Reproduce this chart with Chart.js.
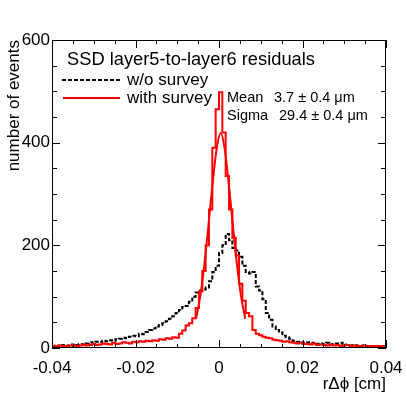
<!DOCTYPE html>
<html>
<head>
<meta charset="utf-8">
<script src="https://cdn.jsdelivr.net/npm/chart.js@4"></script>
<style>
  body { margin: 0; background: #fff; }
  #wrap { width: 407px; height: 396px; }
</style>
</head>
<body>
<div id="wrap"><canvas id="plot"></canvas></div>
<script>
// histogram: 100 bins from -0.04 to 0.04 cm
const binLo = -0.04;
const binW = 0.0008;

const withSurvey = [
  4, 3, 5, 4, 3, 5, 6, 4, 5, 7,
  5, 6, 8, 6, 7, 9, 8, 7, 10, 8,
  9, 11, 10, 9, 12, 11, 13, 12, 14, 13,
  15, 14, 17, 16, 19, 18, 21, 20, 28, 34,
  44, 48, 58, 78, 110, 150, 200, 270, 390, 465,
  498, 420, 335, 270, 215, 180, 125, 92, 68, 62,
  35, 28, 25, 22, 20, 19, 16, 15, 14, 12,
  13, 11, 10, 9, 10, 8, 8, 7, 9, 6,
  7, 6, 5, 7, 5, 6, 4, 5, 6, 4,
  5, 3, 4, 5, 3, 4, 3, 4, 4, 3
];

const withoutSurvey = [
  4, 5, 3, 6, 5, 4, 7, 6, 8, 7,
  9, 11, 10, 12, 11, 14, 13, 15, 14, 17,
  18, 20, 19, 22, 24, 23, 28, 27, 31, 35,
  38, 42, 45, 48, 52, 57, 62, 68, 74, 80,
  82, 90, 100, 108, 112, 114, 118, 130, 148, 160,
  185, 200, 222, 210, 195, 190, 178, 160, 148, 145,
  148, 120, 112, 95, 68, 55, 42, 35, 30, 24,
  21, 18, 14, 12, 11, 10, 11, 9, 10, 8,
  9, 8, 10, 7, 8, 9, 10, 7, 6, 5,
  6, 5, 4, 5, 4, 3, 4, 3, 4, 3
];

// gaussian fit
const fitX = [-0.0055, -0.0045, -0.0035, -0.0025, -0.0015, -0.0005, 0.0004, 0.0013, 0.0023, 0.0033, 0.0043, 0.0053, 0.0063];
const fitY = [57, 100, 163, 241, 322, 391, 419, 391, 322, 241, 163, 100, 57];

const xTicks = [-0.04, -0.02, 0, 0.02, 0.04];
const yTicks = [0, 200, 400, 600];
const xMinorStep = 0.005;
const yMinorStep = 50;

const FONT = '"Liberation Sans", Arial, Helvetica, sans-serif';

function histPoints(vals) {
  const pts = vals.map((v, i) => ({ x: binLo + i * binW, y: v }));
  pts.push({ x: binLo + vals.length * binW, y: vals[vals.length - 1] });
  return pts;
}

const framePlugin = {
  id: 'frame',
  afterDraw(chart) {
    const { ctx, chartArea: a, scales } = chart;
    const xs = scales.x, ys = scales.y;
    ctx.save();
    ctx.strokeStyle = '#000';
    ctx.lineWidth = 1;
    ctx.strokeRect(a.left + 0.5, a.top + 0.5, a.right - a.left - 1, a.bottom - a.top - 1);
    ctx.beginPath();
    for (let v = xs.min; v <= xs.max + 1e-9; v += xMinorStep) {
      const major = xTicks.some(t => Math.abs(t - v) < 1e-9);
      const len = major ? 8 : 4;
      const px = Math.round(xs.getPixelForValue(v)) + 0.5;
      ctx.moveTo(px, a.bottom); ctx.lineTo(px, a.bottom - len);
      ctx.moveTo(px, a.top); ctx.lineTo(px, a.top + len);
    }
    for (let v = ys.min; v <= ys.max + 1e-9; v += yMinorStep) {
      const major = yTicks.includes(v);
      const len = major ? 8 : 5;
      const py = Math.round(ys.getPixelForValue(v)) + 0.5;
      ctx.moveTo(a.left, py); ctx.lineTo(a.left + len, py);
      ctx.moveTo(a.right, py); ctx.lineTo(a.right - len, py);
    }
    ctx.stroke();

    // title, legend and fit results
    ctx.fillStyle = '#000';
    ctx.textBaseline = 'alphabetic';
    ctx.font = '18.3px ' + FONT;
    ctx.fillText('SSD layer5-to-layer6 residuals', a.left + 15, 65);
    ctx.font = '17px ' + FONT;
    ctx.fillText('w/o survey', a.left + 75, 85);
    ctx.fillText('with survey', a.left + 75, 103);

    ctx.lineWidth = 2;
    ctx.strokeStyle = '#000';
    ctx.setLineDash([4, 2]);
    ctx.beginPath(); ctx.moveTo(a.left + 10, 80); ctx.lineTo(a.left + 68, 80); ctx.stroke();
    ctx.setLineDash([]);
    ctx.strokeStyle = '#ff0000';
    ctx.beginPath(); ctx.moveTo(a.left + 11, 98); ctx.lineTo(a.left + 68, 98); ctx.stroke();

    ctx.font = '14.5px ' + FONT;
    ctx.fillText('Mean', 227, 102);
    ctx.fillText('3.7 \u00b1 0.4 \u03bcm', 274, 102);
    ctx.fillText('Sigma', 227, 120);
    ctx.fillText('29.4 \u00b1 0.4 \u03bcm', 279, 120);
    ctx.restore();
  }
};

new Chart(document.getElementById('plot'), {
  type: 'line',
  data: {
    datasets: [
      {
        label: 'with survey',
        data: histPoints(withSurvey),
        borderColor: '#ff0000',
        borderWidth: 2,
        stepped: true,
        pointRadius: 0,
        order: 0
      },
      {
        label: 'fit',
        data: fitX.map((x, i) => ({ x, y: fitY[i] })),
        borderColor: '#ff0000',
        borderWidth: 2,
        tension: 0.4,
        pointRadius: 0,
        order: 1
      },
      {
        label: 'w/o survey',
        data: histPoints(withoutSurvey),
        borderColor: '#000',
        borderWidth: 2,
        borderDash: [4, 2],
        stepped: true,
        pointRadius: 0,
        order: 2
      }
    ]
  },
  options: {
    responsive: true,
    maintainAspectRatio: false,
    animation: false,
    layout: { padding: { top: 40, right: 21, left: 0, bottom: 0 } },
    plugins: {
      legend: { display: false },
      tooltip: { enabled: false }
    },
    scales: {
      x: {
        type: 'linear',
        min: -0.04,
        max: 0.04,
        afterBuildTicks: s => { s.ticks = xTicks.map(v => ({ value: v })); },
        afterFit: s => { s.height = 48; s.paddingLeft = 0; s.paddingRight = 0; },
        grid: { display: false, drawTicks: false },
        border: { display: false },
        ticks: {
          padding: 10,
          color: '#000',
          font: { family: FONT, size: 17 },
          maxRotation: 0,
          autoSkip: false,
          callback: v => String(Math.round(v * 100) / 100)
        },
        title: {
          display: true,
          text: 'r\u0394\u03d5 [cm]',
          align: 'end',
          color: '#000',
          font: { family: FONT, size: 17 },
          padding: { top: 0, bottom: 1 }
        }
      },
      y: {
        min: 0,
        max: 600,
        afterBuildTicks: s => { s.ticks = yTicks.map(v => ({ value: v })); },
        afterFit: s => { s.width = 52; s.paddingTop = 0; s.paddingBottom = 0; },
        grid: { display: false, drawTicks: false },
        border: { display: false },
        ticks: {
          padding: 2,
          color: '#000',
          font: { family: FONT, size: 17 },
          autoSkip: false
        },
        title: {
          display: true,
          text: 'number of events',
          align: 'end',
          color: '#000',
          font: { family: FONT, size: 17 },
          padding: { top: 4, bottom: 0 }
        }
      }
    }
  },
  plugins: [framePlugin]
});
</script>
</body>
</html>
